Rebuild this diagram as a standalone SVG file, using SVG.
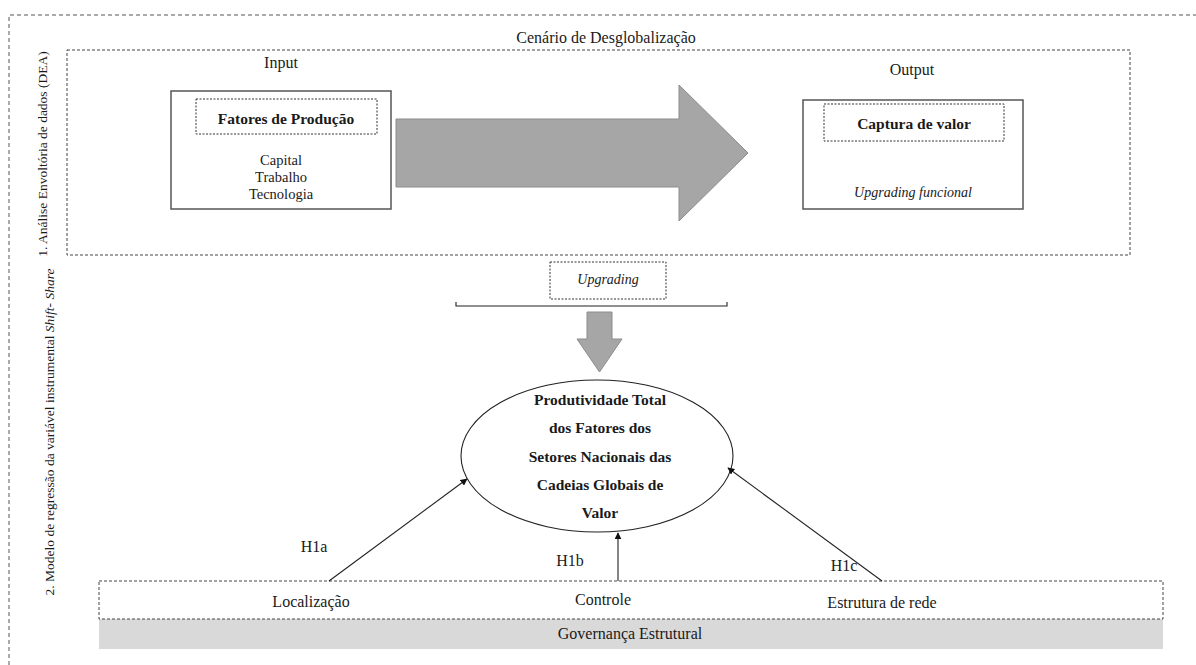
<svg xmlns="http://www.w3.org/2000/svg" width="1196" height="665" viewBox="0 0 1196 665">
  <style>
    text { font-family: "Liberation Serif", "Times New Roman", serif; fill: #1a1a1a; }
    .t16 { font-size: 16px; }
    .t14 { font-size: 14.5px; }
    .side { font-size: 13.5px; }
    .b { font-weight: bold; font-size: 15.5px; }
    .i { font-style: italic; font-size: 14px; }
    .dash-outer { fill: none; stroke: #555; stroke-width: 1; stroke-dasharray: 4 3; }
    .dash { fill: none; stroke: #444; stroke-width: 1; stroke-dasharray: 3 2; }
    .dot { fill: none; stroke: #333; stroke-width: 1; stroke-dasharray: 2 1.5; }
    .solid { fill: #fff; stroke: #555; stroke-width: 1.5; }
    .block { fill: #a6a6a6; stroke: #8c8c8c; stroke-width: 1; }
    .link { fill: none; stroke: #222; stroke-width: 1.1; }
  </style>
  <defs>
    <marker id="head" viewBox="0 0 10 10" refX="9" refY="5" markerWidth="7" markerHeight="7" orient="auto-start-reverse" markerUnits="userSpaceOnUse">
      <path d="M0,0 L10,5 L0,10 z" fill="#111"/>
    </marker>
  </defs>

  <rect width="1196" height="665" fill="#fff"/>

  <!-- outer frame, open to the right and bottom -->
  <g id="frame">
    <path class="dash-outer" d="M9,665 V15 H1200"/>
    <text class="side" transform="translate(47,154) rotate(-90)" text-anchor="middle">1. Análise Envoltória de dados (DEA)</text>
    <text class="side" transform="translate(54,432) rotate(-90)" text-anchor="middle">2. Modelo de regressão da variável instrumental <tspan font-style="italic">Shift- Share</tspan></text>
  </g>

  <!-- DEA scenario -->
  <g id="dea">
    <rect class="dash" x="67" y="50" width="1063" height="205"/>
    <text class="t16" x="606" y="43" text-anchor="middle">Cenário de Desglobalização</text>
  </g>

  <g id="input">
    <text class="t16" x="281" y="68" text-anchor="middle">Input</text>
    <rect class="solid" x="171" y="91" width="220" height="118"/>
    <rect class="dot" x="196" y="99" width="181" height="35"/>
    <text class="b" x="286" y="124" text-anchor="middle" font-size="14.5">Fatores de Produção</text>
    <text class="t14" x="281" y="165" text-anchor="middle">Capital</text>
    <text class="t14" x="281" y="182" text-anchor="middle">Trabalho</text>
    <text class="t14" x="281" y="199" text-anchor="middle">Tecnologia</text>
  </g>

  <g id="flow">
    <polygon class="block" points="396,119 679,119 679,85 748,153 679,221 679,187 396,187"/>
  </g>

  <g id="output">
    <text class="t16" x="912" y="75" text-anchor="middle">Output</text>
    <rect class="solid" x="803" y="100" width="220" height="109"/>
    <rect class="dot" x="824" y="104" width="180" height="37"/>
    <text class="b" x="914" y="129" text-anchor="middle">Captura de valor</text>
    <text class="i" x="913" y="197" text-anchor="middle">Upgrading funcional</text>
  </g>

  <g id="upgrading">
    <rect class="dot" x="550" y="262" width="116" height="37"/>
    <text class="i" x="608" y="284" text-anchor="middle" font-size="17">Upgrading</text>
    <path class="link" d="M456,302 V306 H727 V302"/>
    <polygon class="block" points="587,312 612,312 612,339 622,339 599.5,372 577,339 587,339"/>
  </g>

  <g id="ptf">
    <ellipse cx="597" cy="456" rx="136" ry="76" fill="#fff" stroke="#222" stroke-width="1.1"/>
    <text class="b" x="600" y="405" text-anchor="middle">Produtividade Total</text>
    <text class="b" x="600" y="433" text-anchor="middle">dos Fatores dos</text>
    <text class="b" x="600" y="462" text-anchor="middle">Setores Nacionais das</text>
    <text class="b" x="600" y="490" text-anchor="middle">Cadeias Globais de</text>
    <text class="b" x="600" y="518" text-anchor="middle">Valor</text>
  </g>

  <g id="governance">
    <rect x="99" y="619" width="1064" height="30" fill="#d9d9d9"/>
    <rect class="dash" x="99" y="581" width="1064" height="38"/>
    <text class="t16" x="311" y="607" text-anchor="middle">Localização</text>
    <text class="t16" x="603" y="605" text-anchor="middle">Controle</text>
    <text class="t16" x="882" y="608" text-anchor="middle">Estrutura de rede</text>
    <text class="t16" x="630" y="639" text-anchor="middle">Governança Estrutural</text>
  </g>

  <g id="connectors">
    <line class="link" x1="329" y1="581" x2="467" y2="479" marker-end="url(#head)"/>
    <line class="link" x1="618" y1="581" x2="618" y2="533" marker-end="url(#head)"/>
    <line class="link" x1="882" y1="581" x2="728" y2="468" marker-end="url(#head)"/>
    <text class="t16" x="314" y="552" text-anchor="middle">H1a</text>
    <text class="t16" x="570" y="566" text-anchor="middle">H1b</text>
    <text class="t16" x="844" y="571" text-anchor="middle">H1c</text>
  </g>
</svg>
